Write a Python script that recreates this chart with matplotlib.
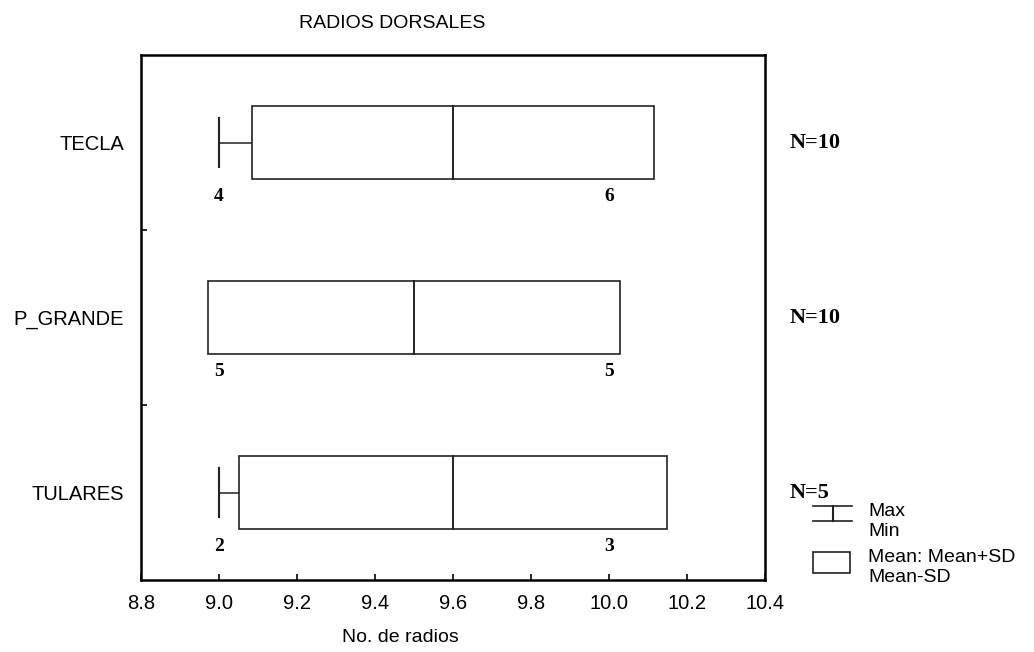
import matplotlib
matplotlib.use("Agg")
import matplotlib.pyplot as plt
from matplotlib.patches import Rectangle
from matplotlib.lines import Line2D
from matplotlib.transforms import blended_transform_factory

# ---- data ----
categories = ["TECLA", "P_GRANDE", "TULARES"]
means = [9.6, 9.5, 9.6]
sds = [0.516, 0.527, 0.548]
mins = [9.0, 9.0, 9.0]
maxs = [10.0, 10.0, 10.0]
n_at_min = [4, 5, 2]
n_at_max = [6, 5, 3]
n_total = [10, 10, 5]
xticks = [8.8, 9.0, 9.2, 9.4, 9.6, 9.8, 10.0, 10.2, 10.4]

W, H = 1034, 652
fig = plt.figure(figsize=(W / 100, H / 100), dpi=100)
plt.rcParams['font.family'] = ['Liberation Sans', 'DejaVu Sans']

def fx(x):
    return x / W

def fy(y):
    return 1 - y / H

ax = fig.add_axes([fx(141), fy(580), (765 - 141) / W, (580 - 55) / H])
ax.set_xlim(8.8, 10.4)
ax.set_ylim(2.5, -0.5)

box_h = 0.42
cap_h = 0.28
for i, cat in enumerate(categories):
    lo = means[i] - sds[i]
    hi = means[i] + sds[i]
    ax.add_patch(Rectangle((lo, i - box_h / 2), hi - lo, box_h,
                           facecolor='white', edgecolor='#222222', lw=1.2, zorder=3))
    ax.plot([means[i], means[i]], [i - box_h / 2, i + box_h / 2], color='#222222', lw=1.4, zorder=4)
    if mins[i] < lo:
        ax.plot([mins[i], lo], [i, i], color='#222222', lw=1.1, zorder=2)
        ax.plot([mins[i], mins[i]], [i - cap_h / 2, i + cap_h / 2], color='#222222', lw=1.5, zorder=2)
    if maxs[i] > hi:
        ax.plot([hi, maxs[i]], [i, i], color='#222222', lw=1.1, zorder=2)
        ax.plot([maxs[i], maxs[i]], [i - cap_h / 2, i + cap_h / 2], color='#222222', lw=1.5, zorder=2)
    ax.text(mins[i], i + 0.31, str(n_at_min[i]), ha='center', va='center',
            fontsize=14, family=['Liberation Serif'], fontweight='bold')
    ax.text(maxs[i], i + 0.31, str(n_at_max[i]), ha='center', va='center',
            fontsize=14, family=['Liberation Serif'], fontweight='bold')

trans = blended_transform_factory(ax.transAxes, ax.transData)
for i, n in enumerate(n_total):
    ax.text(1.04, i, f"N={n}", transform=trans, ha='left', va='center',
            fontsize=16, family=['Liberation Serif'], fontweight='bold', clip_on=False)

ax.set_xticks(xticks)
ax.set_xticklabels([f"{t:.1f}" for t in xticks], fontsize=14.5)
ax.tick_params(axis='x', direction='in', length=4, width=1.2, pad=10)
ax.set_yticks(range(len(categories)))
ax.set_yticklabels(categories, fontsize=14.5)
ax.tick_params(axis='y', length=0, pad=12)
ax.set_yticks([0.5, 1.5], minor=True)
ax.tick_params(axis='y', which='minor', direction='in', length=4, width=1.2)
for s in ax.spines.values():
    s.set_linewidth(1.8)
    s.set_color('black')

fig.text(fx(392), fy(23), "RADIOS DORSALES", ha='center', va='center', fontsize=14)
fig.text(fx(400), fy(638), "No. de radios", ha='center', va='center', fontsize=14)

# ---- legend (bottom right) ----
lc = '#222222'
fig.add_artist(Line2D([fx(813), fx(852)], [fy(506), fy(506)], color=lc, lw=1.2))
fig.add_artist(Line2D([fx(813), fx(852)], [fy(521), fy(521)], color=lc, lw=1.2))
fig.add_artist(Line2D([fx(833), fx(833)], [fy(506), fy(521)], color=lc, lw=1.5))
fig.text(fx(868), fy(512), "Max", ha='left', va='center', fontsize=14)
fig.text(fx(868), fy(531), "Min", ha='left', va='center', fontsize=14)
fig.add_artist(Rectangle((fx(813), fy(573)), fx(850) - fx(813), fy(552) - fy(573),
                         transform=fig.transFigure, facecolor='white', edgecolor=lc, lw=1.2))
fig.text(fx(868), fy(557), "Mean: Mean+SD", ha='left', va='center', fontsize=14)
fig.text(fx(868), fy(578), "Mean-SD", ha='left', va='center', fontsize=14)

fig.savefig("out.png", dpi=100, facecolor='white')
